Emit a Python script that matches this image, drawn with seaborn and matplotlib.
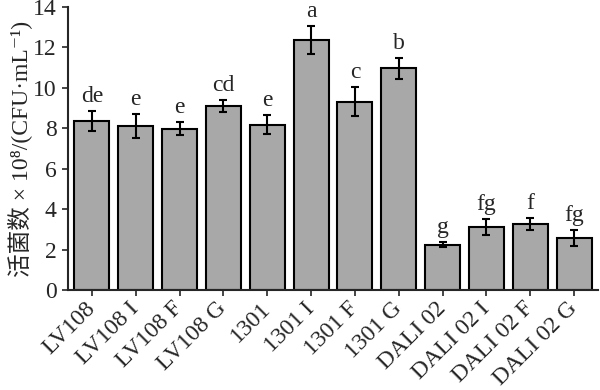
import numpy as np
import pandas as pd
import seaborn as sns
import matplotlib.pyplot as plt

# dados
amostras = ["LV108", "LV108 I", "LV108 F", "LV108 G", "1301", "1301 I",
            "1301 F", "1301 G", "DALI 02", "DALI 02 I", "DALI 02 F", "DALI 02 G"]
medias = [8.37, 8.12, 7.99, 9.11, 8.17, 12.38, 9.32, 10.97, 2.24, 3.13, 3.28, 2.57]
erros = [0.49, 0.58, 0.31, 0.30, 0.47, 0.68, 0.71, 0.51, 0.12, 0.40, 0.31, 0.38]
letras = ["de", "e", "e", "cd", "e", "a", "c", "b", "g", "fg", "f", "fg"]

sns.set_style("ticks")
plt.rcParams['font.family'] = ['Liberation Serif', 'Noto Sans CJK SC', 'DejaVu Serif']

df = pd.DataFrame({"amostra": amostras, "media": medias})

fig = plt.figure(figsize=(6, 3.9), dpi=100)
ax = fig.add_axes([0.113, 0.256, 0.884, 0.726])

sns.barplot(data=df, x="amostra", y="media", color="#a8a8a8", saturation=1,
            edgecolor="black", linewidth=1.5, width=0.8, errorbar=None, ax=ax)

x = np.arange(len(amostras))
ax.errorbar(x, medias, yerr=erros, fmt="none", ecolor="black",
            elinewidth=1.5, capsize=2.6, capthick=1.5)

for xi, m, e, l in zip(x, medias, erros, letras):
    ax.text(xi, m + e + 0.2, l, ha="center", va="bottom", fontsize=17)

ax.set_ylim(0, 14)
ax.set_xlim(-0.55, 11.55)
ax.set_yticks(range(0, 15, 2))
ax.set_xlabel("")
ax.set_ylabel("活菌数 × 10⁸/(CFU·mL⁻¹)", fontsize=17, labelpad=1)
ax.tick_params(axis="y", direction="out", labelsize=17, width=1.2, length=4, pad=4)
ax.tick_params(axis="x", direction="out", labelsize=17, width=1.2, length=4, pad=7)
plt.setp(ax.get_xticklabels(), rotation=45, ha="right", va="center",
         rotation_mode="anchor")
for s in ["top", "right"]:
    ax.spines[s].set_visible(False)
for s in ["left", "bottom"]:
    ax.spines[s].set_linewidth(1.5)

fig.savefig("out.png", dpi=100)
